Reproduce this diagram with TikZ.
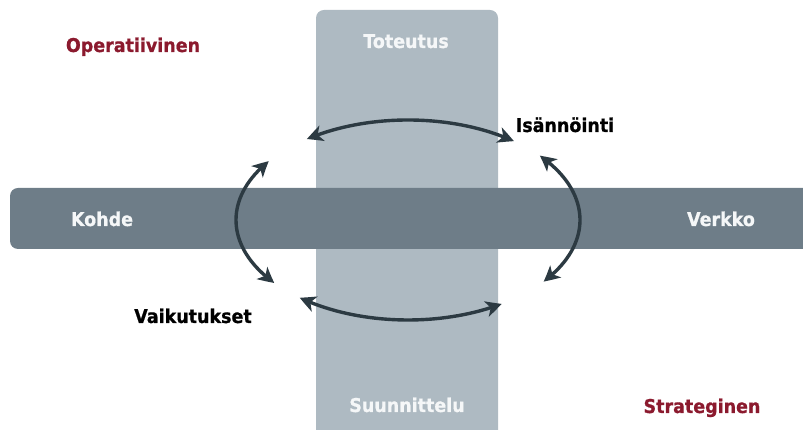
\documentclass[tikz,border=0pt]{standalone}
\usepackage{fontspec}
\setmainfont{DejaVu Sans}
\newfontfamily\lblfont{DejaVu Sans}[BoldFeatures={FakeBold=0.8, FakeStretch=0.92}]
\usetikzlibrary{arrows.meta,calc,bending}
\definecolor{darkred}{RGB}{139,26,46}
\definecolor{arrowgray}{RGB}{44,58,66}
\definecolor{palebar}{RGB}{174,186,194}
\definecolor{darkbar}{RGB}{110,125,136}
\definecolor{bartext}{RGB}{245,247,248}
\tikzset{
  lbl/.style={font=\lblfont\fontsize{19}{22}\selectfont\bfseries, inner sep=0pt, anchor=base},
  corner/.style={lbl, text=darkred},
  onbar/.style={lbl, text=bartext},
  plain/.style={lbl, text=black},
  cyclearrow/.style={draw=arrowgray, line width=3.4pt,
    {Stealth[length=16pt,width=16pt,inset=4.5pt,bend]}-{Stealth[length=16pt,width=16pt,inset=4.5pt,bend]}},
}
\begin{document}
\begin{tikzpicture}[x=1pt,y=1pt]
\useasboundingbox (0,0) rectangle (803,430);
% vertical band (planning / execution)
\fill[palebar, rounded corners=8pt] (316,420) rectangle (498,-12);
% horizontal band (object / network)
\fill[darkbar, rounded corners=8pt] (10,242) rectangle (820,181);

% band labels
\node[onbar] (toteutus) at (406,382) {Toteutus};
\node[onbar] (suunnittelu) at (407,18) {Suunnittelu};
\node[onbar] (kohde) at (102,204) {Kohde};
\node[onbar] (verkko) at (721,204) {Verkko};

% corner labels
\node[corner] (operatiivinen) at (133,378) {Operatiivinen};
\node[corner] (strateginen) at (702,17) {Strateginen};

% arrow labels
\node[plain] (isannointi) at (565,298) {Isännöinti};
\node[plain] (vaikutukset) at (193,107) {Vaikutukset};

% cycle of four arcs on a common ellipse
\coordinate (c) at (408,210);
\coordinate (topR) at ($(c)+(52:172 and 100)$);
\coordinate (leftT) at ($(c)+(144:172 and 100)$);
\coordinate (botL) at ($(c)+(231:172 and 100)$);
\coordinate (rightB) at ($(c)+(322:172 and 100)$);
\draw[cyclearrow] (topR) arc[start angle=52, end angle=126, x radius=172, y radius=100];
\draw[cyclearrow] (leftT) arc[start angle=144, end angle=219, x radius=172, y radius=100];
\draw[cyclearrow] (botL) arc[start angle=231, end angle=303, x radius=172, y radius=100];
\draw[cyclearrow] (rightB) arc[start angle=322, end angle=400, x radius=172, y radius=100];
\end{tikzpicture}
\end{document}
